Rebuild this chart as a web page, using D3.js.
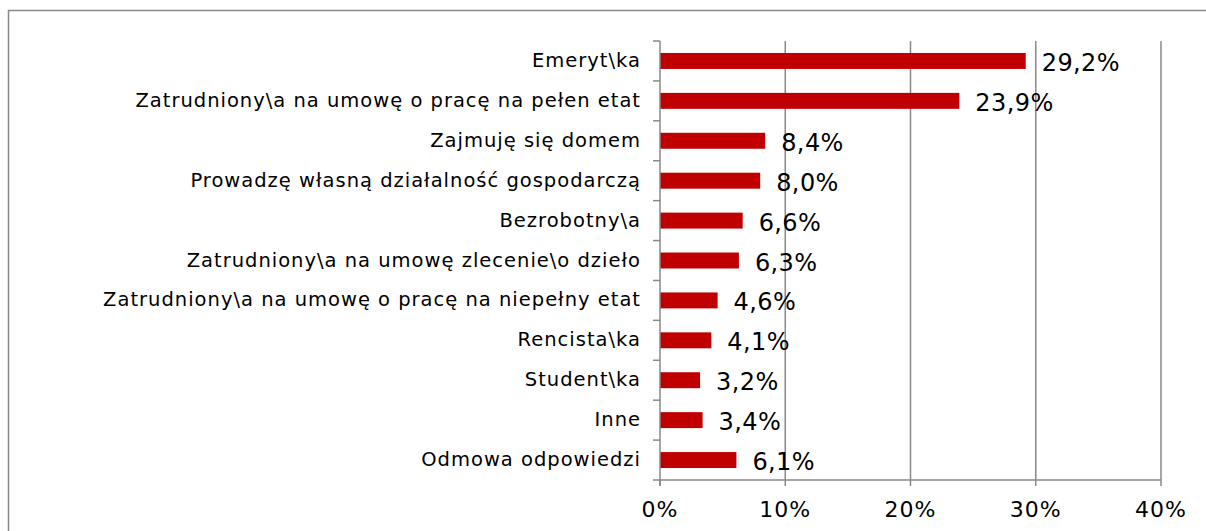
<!DOCTYPE html>
<html>
<head>
<meta charset="utf-8">
<script src="https://cdn.jsdelivr.net/npm/d3@7"></script>
<style>
  body { margin: 0; background: #fff; }
  svg { display: block; }
  text { font-family: "DejaVu Sans", Verdana, sans-serif; fill: #000; }
</style>
</head>
<body>
<svg id="chart" width="1206" height="531"></svg>
<script>
var categories = [
  'Emeryt\\ka',
  'Zatrudniony\\a na umowę o pracę na pełen etat',
  'Zajmuję się domem',
  'Prowadzę własną działalność gospodarczą',
  'Bezrobotny\\a',
  'Zatrudniony\\a na umowę zlecenie\\o dzieło',
  'Zatrudniony\\a na umowę o pracę na niepełny etat',
  'Rencista\\ka',
  'Student\\ka',
  'Inne',
  'Odmowa odpowiedzi'
];
var values = [29.2, 23.9, 8.4, 8.0, 6.6, 6.3, 4.6, 4.1, 3.2, 3.4, 6.1];
var x_ticks = [0, 10, 20, 30, 40];

var svg = d3.select('#chart');
var margin = {left: 660, top: 41, right: 45, bottom: 51};
var width = 1206 - margin.left - margin.right;
var height = 531 - margin.top - margin.bottom;
var axis_color = '#898989';

// outer frame
svg.append('rect')
  .attr('x', 8.5)
  .attr('y', 10.5)
  .attr('width', 1220)
  .attr('height', 540)
  .attr('fill', 'none')
  .attr('stroke', axis_color)
  .attr('stroke-width', 1.5);

var x_scale = d3.scaleLinear().domain([0, 40]).range([0, width]);
var y_scale = d3.scaleBand().domain(categories).range([0, height]).paddingInner(0.6).paddingOuter(0.3);
var band_step = y_scale.step();

var g = svg.append('g')
  .attr('transform', 'translate(' + margin.left + ',' + margin.top + ')');

// vertical gridlines
g.selectAll('.grid_line')
  .data(x_ticks.slice(1))
  .enter()
  .append('line')
  .attr('class', 'grid_line')
  .attr('x1', function(d) { return x_scale(d); })
  .attr('x2', function(d) { return x_scale(d); })
  .attr('y1', 0)
  .attr('y2', height)
  .attr('stroke', axis_color)
  .attr('stroke-width', 1.5);

// bars
g.selectAll('.bar')
  .data(values)
  .enter()
  .append('rect')
  .attr('class', 'bar')
  .attr('x', x_scale(0))
  .attr('y', function(d, i) { return y_scale(categories[i]); })
  .attr('width', function(d) { return x_scale(d) - x_scale(0); })
  .attr('height', y_scale.bandwidth())
  .attr('fill', '#c00000');

// value labels
g.selectAll('.value_label')
  .data(values)
  .enter()
  .append('text')
  .attr('class', 'value_label')
  .attr('x', function(d) { return x_scale(d) + 16; })
  .attr('y', function(d, i) { return y_scale(categories[i]) + y_scale.bandwidth() / 2 + 10; })
  .style('font-size', '24px')
  .style('letter-spacing', '0.4px')
  .text(function(d) { return d.toFixed(1).replace('.', ',') + '%'; });

// y axis line and ticks at band edges
g.append('line')
  .attr('x1', 0).attr('x2', 0)
  .attr('y1', 0).attr('y2', height + 6)
  .attr('stroke', axis_color)
  .attr('stroke-width', 1.5);

g.selectAll('.y_tick')
  .data(d3.range(categories.length + 1))
  .enter()
  .append('line')
  .attr('class', 'y_tick')
  .attr('x1', -7).attr('x2', 0)
  .attr('y1', function(d) { return d * band_step; })
  .attr('y2', function(d) { return d * band_step; })
  .attr('stroke', axis_color)
  .attr('stroke-width', 1.5);

// category labels
g.selectAll('.cat_label')
  .data(categories)
  .enter()
  .append('text')
  .attr('class', 'cat_label')
  .attr('x', -19)
  .attr('y', function(d) { return y_scale(d) + y_scale.bandwidth() / 2 + 6; })
  .attr('text-anchor', 'end')
  .style('font-size', '19.5px')
  .style('letter-spacing', '1px')
  .text(function(d) { return d; });

// x axis
g.append('line')
  .attr('x1', 0).attr('x2', width)
  .attr('y1', height).attr('y2', height)
  .attr('stroke', axis_color)
  .attr('stroke-width', 1.5);

g.selectAll('.x_tick')
  .data(x_ticks)
  .enter()
  .append('line')
  .attr('class', 'x_tick')
  .attr('x1', function(d) { return x_scale(d); })
  .attr('x2', function(d) { return x_scale(d); })
  .attr('y1', height).attr('y2', height + 6)
  .attr('stroke', axis_color)
  .attr('stroke-width', 1.5);

g.selectAll('.x_label')
  .data(x_ticks)
  .enter()
  .append('text')
  .attr('class', 'x_label')
  .attr('x', function(d) { return x_scale(d); })
  .attr('y', height + 37)
  .attr('text-anchor', 'middle')
  .style('font-size', '22px')
  .style('letter-spacing', '1px')
  .text(function(d) { return d + '%'; });
</script>
</body>
</html>
